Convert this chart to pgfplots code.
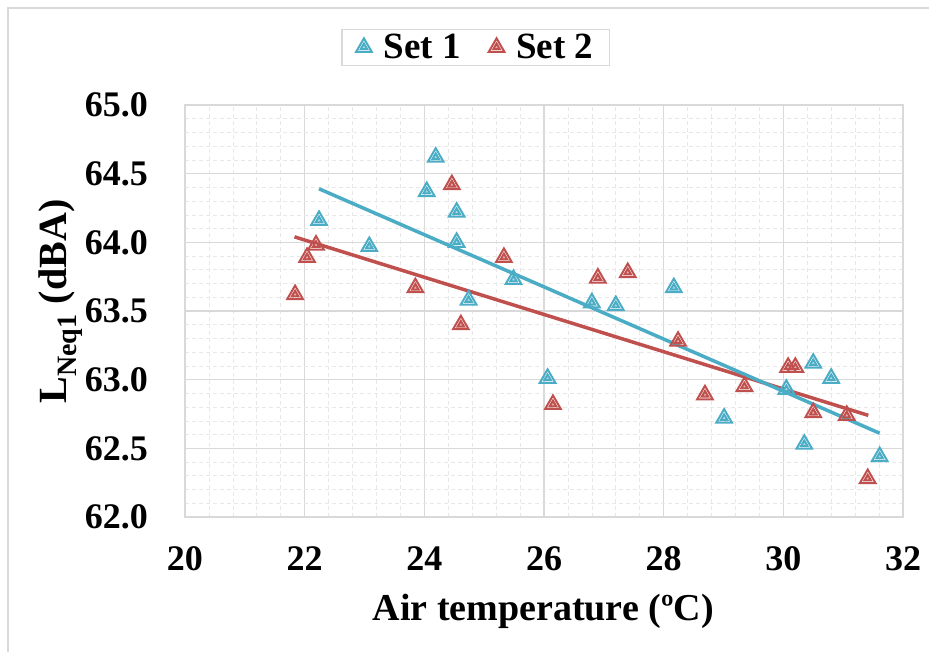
\documentclass[border=0pt]{standalone}
\usepackage{fontspec}
\setmainfont{Liberation Serif}
\usepackage{pgfplots}
\pgfplotsset{compat=1.18}

\definecolor{setA}{RGB}{75,172,198}
\definecolor{setB}{RGB}{192,80,77}
\definecolor{gridc}{RGB}{217,217,217}

% triangle inside a triangle, like the spreadsheet marker
\pgfdeclareplotmark{dtri}{%
  \pgfpathmoveto{\pgfqpointpolar{90}{\pgfplotmarksize}}%
  \pgfpathlineto{\pgfqpointpolar{210}{\pgfplotmarksize}}%
  \pgfpathlineto{\pgfqpointpolar{330}{\pgfplotmarksize}}%
  \pgfpathclose
  \pgfusepathqstroke
  \pgfpathmoveto{\pgfqpointpolar{90}{0.42\pgfplotmarksize}}%
  \pgfpathlineto{\pgfqpointpolar{210}{0.42\pgfplotmarksize}}%
  \pgfpathlineto{\pgfqpointpolar{330}{0.42\pgfplotmarksize}}%
  \pgfpathclose
  \pgfusepathqfillstroke
}

\pgfplotstableread{
x y
22.24 64.16
23.08 63.97
24.04 64.37
24.19 64.62
24.54 64.22
24.54 64.00
24.74 63.58
25.49 63.73
26.06 63.01
26.80 63.56
27.20 63.54
28.17 63.67
29.01 62.72
30.05 62.93
30.35 62.53
30.50 63.12
30.80 63.01
31.61 62.44
}\setone

\pgfplotstableread{
x y
21.84 63.62
22.04 63.89
22.19 63.98
23.85 63.67
24.46 64.42
24.61 63.40
25.33 63.89
26.15 62.82
26.90 63.74
27.40 63.78
28.24 63.28
28.69 62.89
29.35 62.95
30.08 63.09
30.20 63.09
30.50 62.76
31.06 62.74
31.41 62.28
}\settwo

\begin{document}
\begin{tikzpicture}
\path[use as bounding box] (0pt,0pt) rectangle (929pt,-651pt);
\draw[gridc, line width=1.5pt] (8pt,-700pt) -- (8pt,-8pt) -- (1000pt,-8pt);
\begin{axis}[
  at={(185pt,-517pt)}, anchor=south west,
  scale only axis, width=718pt, height=412pt,
  xmin=20, xmax=32, ymin=62, ymax=65,
  xtick={20,22,24,26,28,30,32},
  ytick={62,62.5,63,63.5,64,64.5,65},
  minor x tick num=4, minor y tick num=4,
  major tick length=0pt, minor tick length=0pt,
  grid=both,
  major grid style={gridc, line width=1.5pt},
  minor grid style={gridc!60, line width=0.7pt, dash pattern=on 4pt off 3pt},
  axis line style={gridc, line width=1.5pt},
  /pgf/number format/assume math mode=true,
  yticklabel style={/pgf/number format/fixed, /pgf/number format/fixed zerofill,
    /pgf/number format/precision=1},
  ticklabel style={font=\fontsize{36}{36}\selectfont\bfseries, inner sep=0pt},
  xticklabel style={anchor=north, yshift=-29pt},
  yticklabel style={anchor=east, xshift=-37pt},
  xlabel={Air temperature (ºC)},
  xlabel style={font=\fontsize{38}{38}\selectfont\bfseries,
    at={(axis description cs:0.499,-0.23)}, anchor=center},
  ylabel={L\textsubscript{Neq1} (dBA)},
  ylabel style={font=\fontsize{40}{40}\selectfont\bfseries,
    at={(axis description cs:-0.173,0.523)}, anchor=center},
  legend columns=2,
  legend style={at={(axis description cs:0.405,1.14)}, anchor=center,
    draw=gridc, line width=1.5pt, font=\fontsize{37}{37}\selectfont\bfseries,
    inner xsep=14pt, inner ysep=3pt,
    /tikz/every odd column/.append style={column sep=10pt},
    /tikz/every even column/.append style={column sep=26pt}},
  legend image code/.code={\draw[mark repeat=2,mark phase=2] plot coordinates {(0cm,0cm) (0.3cm,0cm) (0.6cm,0cm)};},
]
\addplot[setB, line width=3.5pt, forget plot] coordinates {(21.83,64.04) (31.42,62.74)};
\addplot[setA, line width=3.5pt, forget plot] coordinates {(22.24,64.39) (31.61,62.61)};
\addplot[only marks, mark=dtri, mark size=9pt,
  mark options={draw=setA, fill=setA!45, line width=2pt}] table {\setone};
\addlegendentry{Set 1}
\addplot[only marks, mark=dtri, mark size=9pt,
  mark options={draw=setB, fill=setB!45, line width=2pt}] table {\settwo};
\addlegendentry{Set 2}
\end{axis}
\end{tikzpicture}
\end{document}
